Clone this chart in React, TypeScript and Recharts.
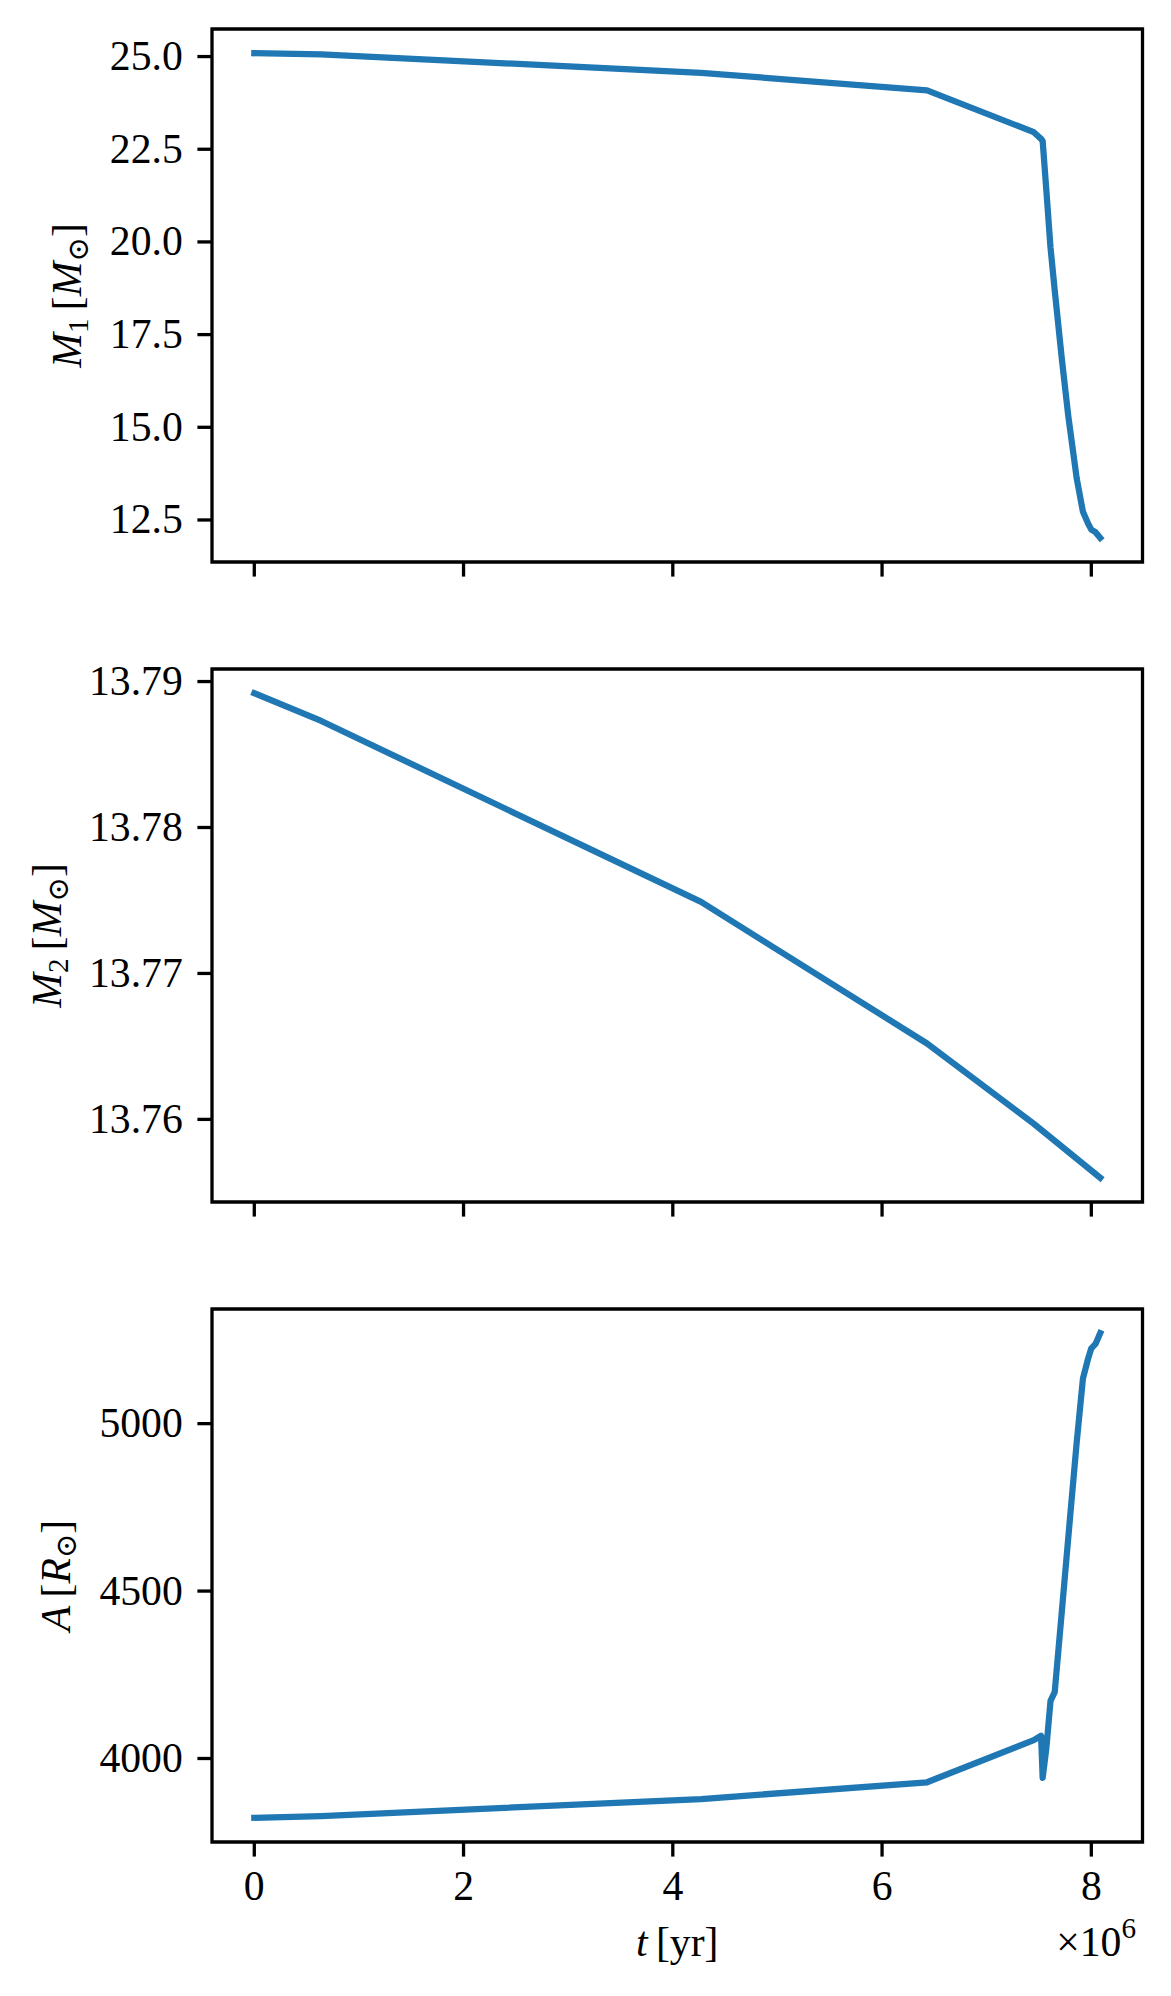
import React from 'react';
import { LineChart, Line, XAxis, YAxis, ReferenceArea } from 'recharts';

// ---- data (time in units of 10^6 yr) ----
const tMyr = [0, 0.64, 4.27, 6.43, 7.45, 7.52, 7.535, 7.57, 7.61, 7.65, 7.72, 7.78, 7.86, 7.92, 7.97, 8.0, 8.04, 8.085];
const m1Msun = [25.09, 25.06, 24.56, 24.09, 22.96, 22.78, 22.72, 21.4, 19.85, 18.7, 16.8, 15.3, 13.63, 12.72, 12.4, 12.24, 12.17, 12.02];
const aRsun = [3823, 3828, 3879, 3929, 4055, 4068, 3942, 4030, 4172, 4198, 4446, 4660, 4943, 5135, 5195, 5225, 5238, 5270];

const tM2Myr = [0, 0.64, 4.27, 6.43, 7.45, 8.085];
const m2Msun = [13.7892, 13.7873, 13.7749, 13.7652, 13.7597, 13.756];

const xTicks = [0, 2, 4, 6, 8];
const m1Ticks = [12.5, 15, 17.5, 20, 22.5, 25];
const m2Ticks = [13.76, 13.77, 13.78, 13.79];
const aTicks = [4000, 4500, 5000];

// ---- style ----
const FONT = "'Liberation Serif', 'DejaVu Serif', serif";
const FS = 41.7;
const BLUE = '#1f77b4';
const LW = 6.25;
const SPINE = 3.3;
const TICK = 14.6;

const FIG_W = 1171;
const FIG_H = 1996;
const PLOT_LEFT = 212;
const PLOT_RIGHT = 1142.5;
const PLOT_H = 533;
const PLOT_TOP_OFF = 29;

const padDomain = (arr: number[]): [number, number] => {
  const mn = Math.min(...arr);
  const mx = Math.max(...arr);
  const r = mx - mn;
  return [mn - 0.05 * r, mx + 0.05 * r];
};

const rowsMain = tMyr.map((t, i) => ({ t, m1: m1Msun[i], a: aRsun[i] }));
const rowsM2 = tM2Myr.map((t, i) => ({ t, m2: m2Msun[i] }));

const xDomain = padDomain([...tMyr, ...tM2Myr]);

function XTick(props: any) {
  const { x, y, payload, show } = props;
  if (!show) return <g />;
  return (
    <text x={x} y={y + 43.4} textAnchor="middle" fontFamily={FONT} fontSize={FS} fill="#000">
      {String(payload.value)}
    </text>
  );
}

function YTick(props: any) {
  const { x, y, payload, fmt } = props;
  return (
    <text x={x} y={y + 13.5} textAnchor="end" fontFamily={FONT} fontSize={FS} fill="#000">
      {fmt(payload.value)}
    </text>
  );
}

type PanelProps = {
  plotTop: number;
  height: number;
  xAxisH: number;
  data: any[];
  dataKey: string;
  values: number[];
  yTicks: number[];
  yFmt: (v: number) => string;
  showX: boolean;
};

function Panel({ plotTop, height, xAxisH, data, dataKey, values, yTicks, yFmt, showX }: PanelProps) {
  const yDomain = padDomain(values);
  return (
    <div style={{ position: 'absolute', left: 0, top: plotTop - PLOT_TOP_OFF }}>
      <LineChart
        width={FIG_W}
        height={height}
        data={data}
        margin={{
          top: PLOT_TOP_OFF,
          right: FIG_W - PLOT_RIGHT,
          left: 0,
          bottom: height - PLOT_TOP_OFF - PLOT_H - xAxisH,
        }}
      >
        <XAxis
          type="number"
          dataKey="t"
          domain={xDomain}
          ticks={xTicks}
          allowDataOverflow
          interval={0}
          height={xAxisH}
          tickSize={TICK}
          tickMargin={0}
          axisLine={false}
          tickLine={{ stroke: '#000', strokeWidth: SPINE }}
          tick={(p: any) => <XTick {...p} show={showX} />}
        />
        <YAxis
          type="number"
          domain={yDomain}
          ticks={yTicks}
          allowDataOverflow
          interval={0}
          width={PLOT_LEFT}
          tickSize={TICK}
          tickMargin={TICK}
          axisLine={false}
          tickLine={{ stroke: '#000', strokeWidth: SPINE }}
          tick={(p: any) => <YTick {...p} fmt={yFmt} />}
        />
        <ReferenceArea
          x1={xDomain[0]}
          x2={xDomain[1]}
          y1={yDomain[0]}
          y2={yDomain[1]}
          fill="none"
          fillOpacity={0}
          stroke="#000"
          strokeOpacity={1}
          strokeWidth={SPINE}
          ifOverflow="visible"
        />
        <Line
          type="linear"
          dataKey={dataKey}
          stroke={BLUE}
          strokeWidth={LW}
          strokeLinejoin="round"
          strokeLinecap="square"
          dot={false}
          activeDot={false}
          isAnimationActive={false}
        />
      </LineChart>
    </div>
  );
}

function YLabel({ x, y, sym, sub, unit }: { x: number; y: number; sym: string; sub?: string; unit: string }) {
  const subSize = FS * 0.7;
  const shift = FS * 0.16;
  return (
    <text transform={`translate(${x},${y}) rotate(-90)`} textAnchor="middle" fontFamily={FONT} fontSize={FS} fill="#000">
      <tspan fontStyle="italic">{sym}</tspan>
      {sub ? (
        <tspan fontSize={subSize} dy={shift}>
          {sub}
        </tspan>
      ) : null}
      <tspan dy={sub ? -shift : 0}>{'\u2009['}</tspan>
      <tspan fontStyle="italic">{unit}</tspan>
      <tspan fontSize={subSize} dy={shift}>
        {'\u2299'}
      </tspan>
      <tspan dy={-shift}>]</tspan>
    </text>
  );
}

export default function App() {
  const tops = [29, 669, 1309];
  return (
    <div style={{ position: 'absolute', left: 0, top: 0, width: FIG_W, height: FIG_H, background: '#fff', overflow: 'hidden' }}>
      <Panel
        plotTop={tops[0]}
        height={640}
        xAxisH={60}
        data={rowsMain}
        dataKey="m1"
        values={m1Msun}
        yTicks={m1Ticks}
        yFmt={(v) => v.toFixed(1)}
        showX={false}
      />
      <Panel
        plotTop={tops[1]}
        height={640}
        xAxisH={60}
        data={rowsM2}
        dataKey="m2"
        values={m2Msun}
        yTicks={m2Ticks}
        yFmt={(v) => v.toFixed(2)}
        showX={false}
      />
      <Panel
        plotTop={tops[2]}
        height={FIG_H - (tops[2] - PLOT_TOP_OFF)}
        xAxisH={100}
        data={rowsMain}
        dataKey="a"
        values={aRsun}
        yTicks={aTicks}
        yFmt={(v) => String(Math.round(v))}
        showX={true}
      />
      <svg width={FIG_W} height={FIG_H} style={{ position: 'absolute', left: 0, top: 0, pointerEvents: 'none' }}>
        <YLabel x={81} y={tops[0] + PLOT_H / 2} sym="M" sub="1" unit="M" />
        <YLabel x={61} y={tops[1] + PLOT_H / 2} sym="M" sub="2" unit="M" />
        <YLabel x={69.5} y={tops[2] + PLOT_H / 2} sym="A" unit="R" />
        <text x={(PLOT_LEFT + PLOT_RIGHT) / 2} y={1956} textAnchor="middle" fontFamily={FONT} fontSize={FS} fill="#000">
          <tspan fontStyle="italic">t</tspan>
          <tspan>{'\u2009[yr]'}</tspan>
        </text>
        <text x={1136} y={1956} textAnchor="end" fontFamily={FONT} fontSize={FS} fill="#000">
          {'\u00d710'}
          <tspan fontSize={FS * 0.7} dy={-FS * 0.42}>
            6
          </tspan>
        </text>
      </svg>
    </div>
  );
}
